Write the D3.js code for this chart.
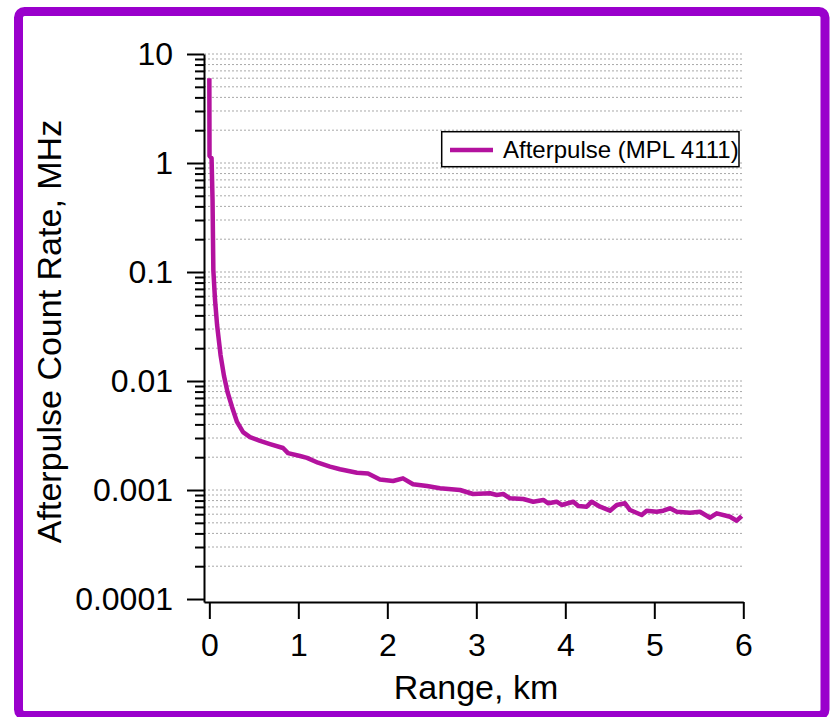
<!DOCTYPE html>
<html>
<head>
<meta charset="utf-8">
<script src="https://cdn.jsdelivr.net/npm/d3@7"></script>
<style>
  html, body { margin: 0; padding: 0; background: #fff; }
  svg { display: block; font-family: "Liberation Sans", Arial, sans-serif; }
</style>
</head>
<body>
<svg id="chart" width="830" height="717"></svg>
<script>
// Data
const rangeKm = [0.00, 0.002, 0.025, 0.036, 0.045, 0.064, 0.087, 0.126, 0.165, 0.204, 0.255, 0.311, 0.379, 0.457, 0.570, 0.682, 0.828, 0.884, 1.019, 1.098, 1.221, 1.356, 1.468, 1.659, 1.783, 1.917, 2.064, 2.176, 2.289, 2.446, 2.592, 2.817, 2.963, 3.154, 3.229, 3.303, 3.379, 3.528, 3.640, 3.753, 3.809, 3.903, 3.960, 4.090, 4.146, 4.240, 4.297, 4.390, 4.502, 4.578, 4.671, 4.727, 4.858, 4.915, 5.027, 5.101, 5.176, 5.252, 5.401, 5.513, 5.626, 5.701, 5.851, 5.926, 5.982];
const afterpulseMHz = [6.0, 1.16, 1.11, 0.458, 0.104, 0.0553, 0.0326, 0.0173, 0.0111, 0.00793, 0.00578, 0.00421, 0.00340, 0.00306, 0.00282, 0.00264, 0.00243, 0.00218, 0.00205, 0.00197, 0.00178, 0.00164, 0.00155, 0.00144, 0.00142, 0.00125, 0.00121, 0.00128, 0.00113, 0.00109, 0.00104, 0.00100, 0.000919, 0.000933, 0.000900, 0.000919, 0.000839, 0.000827, 0.000781, 0.000810, 0.000755, 0.000781, 0.000729, 0.000781, 0.000713, 0.000703, 0.000781, 0.000703, 0.000646, 0.000729, 0.000755, 0.000655, 0.000590, 0.000646, 0.000632, 0.000646, 0.000679, 0.000632, 0.000619, 0.000632, 0.000557, 0.000611, 0.000569, 0.000523, 0.000577];
const xTicks = [0, 1, 2, 3, 4, 5, 6];
const yMajorTicks = [0.0001, 0.001, 0.01, 0.1, 1, 10];
const yMajorLabels = ["0.0001", "0.001", "0.01", "0.1", "1", "10"];
const yMinorMultipliers = [2, 3, 4, 5, 6, 7, 8, 9];
const seriesName = "Afterpulse (MPL 4111)";
const xTitle = "Range, km";
const yTitle = "Afterpulse Count Rate, MHz";

const lineColor = "#b3129e";
const frameColor = "#9a00cc";

const svg = d3.select("#chart");

// Frame
svg.append("rect")
  .attr("x", 18.5).attr("y", 11.5)
  .attr("width", 806.5).attr("height", 704)
  .attr("rx", 6).attr("ry", 6)
  .attr("fill", "#fff")
  .attr("stroke", frameColor).attr("stroke-width", 9);

const x = d3.scaleLinear().domain([-0.06, 6]).range([204, 743.3]);
const y = d3.scaleLog().domain([0.0000939, 10]).range([602, 54]);

const yMinorTicks = [];
yMajorTicks.slice(0, -1).forEach(m => yMinorMultipliers.forEach(k => yMinorTicks.push(+(m * k).toPrecision(3))));

// Grid lines
const gridVals = yMajorTicks.slice(1).concat(yMinorTicks);
svg.append("g").selectAll("line").data(gridVals).join("line")
  .attr("x1", x(-0.06)).attr("x2", x(6))
  .attr("y1", d => y(d)).attr("y2", d => y(d))
  .attr("stroke", "#a8a8a8").attr("stroke-width", 1)
  .attr("stroke-dasharray", "2,2");

// Y minor axis
const yMinorAxis = svg.append("g").attr("transform", `translate(${x(-0.06)},0)`)
  .call(d3.axisLeft(y).tickValues(yMinorTicks).tickSize(9).tickSizeOuter(0).tickFormat(""));
yMinorAxis.select(".domain").remove();

// Y major axis
const yAxis = svg.append("g").attr("transform", `translate(${x(-0.06)},0)`)
  .call(d3.axisLeft(y).tickValues(yMajorTicks).tickSize(17).tickSizeOuter(0).tickPadding(14)
    .tickFormat((d, i) => yMajorLabels[i]));

// X axis
const xAxis = svg.append("g").attr("transform", `translate(0,${y.range()[0]})`)
  .call(d3.axisBottom(x).tickValues(xTicks).tickSize(17).tickSizeOuter(0).tickPadding(14)
    .tickFormat(d3.format("d")));

[yAxis, yMinorAxis, xAxis].forEach(g => {
  g.selectAll("line").attr("stroke", "#000").attr("stroke-width", 2);
  g.selectAll(".domain").attr("stroke", "#000").attr("stroke-width", 2);
  g.selectAll("text").attr("fill", "#000").style("font-size", "32px")
    .style("font-family", '"Liberation Sans", Arial, sans-serif');
});

// Line
const pts = rangeKm.map((r, i) => [r, afterpulseMHz[i]]);
svg.append("path")
  .datum(pts)
  .attr("fill", "none")
  .attr("stroke", lineColor)
  .attr("stroke-width", 4.5)
  .attr("stroke-linejoin", "round")
  .attr("d", d3.line().x(d => x(d[0])).y(d => y(d[1])));

// Titles
svg.append("text")
  .attr("x", 476).attr("y", 699)
  .attr("text-anchor", "middle")
  .style("font-size", "34px")
  .text(xTitle);

svg.append("text")
  .attr("transform", "translate(61,331.5) rotate(-90)")
  .attr("text-anchor", "middle")
  .style("font-size", "34px")
  .text(yTitle);

// Legend
const lg = svg.append("g");
lg.append("rect")
  .attr("x", 441.7).attr("y", 131.7).attr("width", 297.3).attr("height", 35)
  .attr("fill", "#fff").attr("stroke", "#000").attr("stroke-width", 1.5);
lg.append("line")
  .attr("x1", 450).attr("x2", 493).attr("y1", 150).attr("y2", 150)
  .attr("stroke", lineColor).attr("stroke-width", 4.5);
lg.append("text")
  .attr("x", 503).attr("y", 158.3)
  .style("font-size", "24px")
  .text(seriesName);
</script>
</body>
</html>
